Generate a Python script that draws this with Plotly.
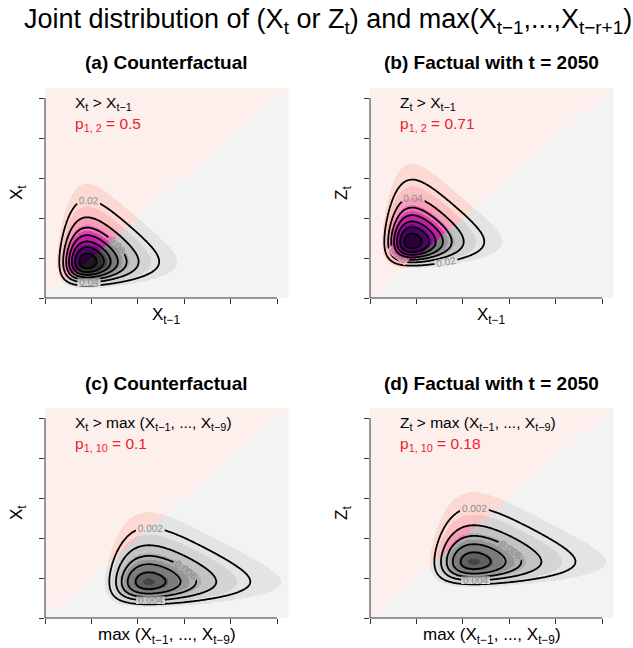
import numpy as np
import plotly.graph_objects as go

FONT = "Liberation Sans, Arial, Helvetica, sans-serif"
W, H = 633, 648

# ---------------- data ----------------
panel_titles = ["(a) Counterfactual", "(b) Factual with t = 2050",
                "(c) Counterfactual", "(d) Factual with t = 2050"]
event_labels = ["X<sub>t</sub> > X<sub>t\u22121</sub>",
                "Z<sub>t</sub> > X<sub>t\u22121</sub>",
                "X<sub>t</sub> > max (X<sub>t\u22121</sub>, ..., X<sub>t\u22129</sub>)",
                "Z<sub>t</sub> > max (X<sub>t\u22121</sub>, ..., X<sub>t\u22129</sub>)"]
prob_subscripts = ["1, 2", "1, 2", "1, 10", "1, 10"]
prob_values = ["0.5", "0.71", "0.1", "0.18"]
x_titles = ["X<sub>t\u22121</sub>", "X<sub>t\u22121</sub>",
            "max (X<sub>t\u22121</sub>, ..., X<sub>t\u22129</sub>)",
            "max (X<sub>t\u22121</sub>, ..., X<sub>t\u22129</sub>)"]
y_titles = ["X<sub>t</sub>", "Z<sub>t</sub>", "X<sub>t</sub>", "Z<sub>t</sub>"]

# GEV marginals (location, scale, shape)
x_loc = [1.95, 1.95, 4.75, 4.75]
x_scale = [0.95, 0.95, 1.52, 1.52]
x_shape = [0.15, 0.15, 0.20, 0.20]
y_loc = [1.95, 2.95, 1.95, 2.95]
y_scale = [0.95, 0.95, 0.95, 0.95]
y_shape = [0.15, 0.15, 0.15, 0.15]
density_scale = [1.0, 1.0, 0.116, 0.116]
level_unit = [0.02, 0.02, 0.002, 0.002]
label_format = [".2f", ".2f", ".3f", ".3f"]
fill_breaks = [0.55, 1.3, 2.0, 2.7, 3.4, 4.1, 4.8, 5.5, 6.2, 6.9]
tick_vals = [0, 2, 4, 6, 8, 10]
axis_max = 10.5

grey_cols = ["#F3F3F3", "#E4E4E4", "#D4D4D4", "#C3C3C3", "#AEAEAE", "#969696",
             "#7C7C7C", "#606060", "#454545", "#2E2E2E", "#1A1A1A"]
pink_cols = ["#FDEFEC", "#FDD9D3", "#FAC1C2", "#F5A0B8", "#EE72B6", "#E040AE",
             "#C41FA6", "#9A0E98", "#6C0880", "#440560", "#2A003A"]
red_col = "#F0202E"

# ---------------- layout geometry ----------------
col_x = [(45 / W, 288.6 / W), (370 / W, 613.8 / W)]
row_y = [(1 - 298 / H, 1 - 88 / H), (1 - 618 / H, 1 - 408 / H)]


def gev_pdf(v, mu, sigma, xi):
    z = (v - mu) / sigma
    s = 1 + xi * z
    out = np.zeros_like(v, dtype=float)
    ok = s > 0
    t = s[ok] ** (-1.0 / xi)
    out[ok] = (1.0 / sigma) * t ** (xi + 1) * np.exp(-t)
    return out


fig = go.Figure()
annotations = []
shapes = []

nb = len(fill_breaks) + 1
cscale = []
M = 2 * nb
all_cols = grey_cols + pink_cols
for i, col in enumerate(all_cols):
    cscale.append([i / M, col])
    cscale.append([(i + 1) / M, col])

gf = np.linspace(0, axis_max, 361)
gc = np.linspace(0, axis_max, 221)

for i in range(4):
    r, c = divmod(i, 2)
    sfx = "" if i == 0 else str(i + 1)
    xa, ya = "x" + sfx, "y" + sfx

    def dens(g):
        X, Y = np.meshgrid(g, g)
        return (gev_pdf(X, x_loc[i], x_scale[i], x_shape[i]) *
                gev_pdf(Y, y_loc[i], y_scale[i], y_shape[i]) * density_scale[i]), X, Y

    zf, Xf, Yf = dens(gf)
    levels = np.array(fill_breaks) * level_unit[i]
    band = np.digitize(zf, levels)
    code = (band + nb * (Yf > Xf)).astype(np.int8)
    fig.add_trace(go.Heatmap(x=gf, y=gf, z=code, colorscale=cscale, zmin=-0.5, zmax=M - 0.5,
                             showscale=False, hoverinfo="skip", xaxis=xa, yaxis=ya))

    zc, _, _ = dens(gc)
    u = level_unit[i]
    # labelled outer contours
    fig.add_trace(go.Contour(x=gc, y=gc, z=zc, showscale=False, hoverinfo="skip",
                             colorscale=[[0, "black"], [1, "black"]],
                             contours=dict(start=u, end=u * 3, size=u, coloring="lines",
                                           showlabels=True, labelformat=label_format[i],
                                           labelfont=dict(size=10, color="#8c8c8c", family=FONT)),
                             line=dict(width=1.8), xaxis=xa, yaxis=ya))
    # unlabelled inner contours
    fig.add_trace(go.Contour(x=gc, y=gc, z=zc, showscale=False, hoverinfo="skip",
                             colorscale=[[0, "black"], [1, "black"]],
                             contours=dict(start=u * 4, end=u * 12, size=u, coloring="lines",
                                           showlabels=False),
                             line=dict(width=1.8), xaxis=xa, yaxis=ya))

    ax_common = dict(range=[0, axis_max], tickvals=tick_vals, ticks="outside", ticklen=5,
                     tickcolor="#333", tickwidth=1, showticklabels=False, showgrid=False,
                     zeroline=False, showline=False, fixedrange=True)
    fig.update_layout({("xaxis" + sfx): dict(domain=col_x[c], anchor=ya, **ax_common),
                       ("yaxis" + sfx): dict(domain=row_y[r], anchor=xa, **ax_common)})

    x0, x1 = col_x[c]
    y0, y1 = row_y[r]
    fx = lambda v: x0 + (x1 - x0) * v / axis_max
    fy = lambda v: y0 + (y1 - y0) * v / axis_max
    shapes.append(dict(type="line", xref="paper", yref="paper", x0=fx(0), x1=fx(tick_vals[-1]),
                       y0=y0, y1=y0, line=dict(color="#333", width=1)))
    shapes.append(dict(type="line", xref="paper", yref="paper", x0=x0, x1=x0,
                       y0=fy(0), y1=fy(tick_vals[-1]), line=dict(color="#333", width=1)))

    dx, dy = xa + " domain", ya + " domain"
    annotations.append(dict(text="<b>" + panel_titles[i] + "</b>", xref=dx, yref=dy, x=0.5, y=1,
                            yshift=25, xanchor="center", yanchor="middle", showarrow=False,
                            font=dict(family=FONT, size=19, color="black")))
    annotations.append(dict(text=x_titles[i], xref=dx, yref=dy, x=0.5, y=0, yshift=-18,
                            xanchor="center", yanchor="middle", showarrow=False,
                            font=dict(family=FONT, size=17, color="black")))
    annotations.append(dict(text=y_titles[i], xref=dx, yref=dy, x=0, y=0.5, xshift=-27,
                            xanchor="center", yanchor="middle", textangle=-90, showarrow=False,
                            font=dict(family=FONT, size=17, color="black")))
    annotations.append(dict(text=event_labels[i], xref=xa, yref=ya, x=1.19, y=9.72,
                            xanchor="left", yanchor="middle", showarrow=False,
                            font=dict(family=FONT, size=15.5, color="black")))
    annotations.append(dict(text="p<sub>" + prob_subscripts[i] + "</sub> = " + prob_values[i],
                            xref=xa, yref=ya, x=1.19, y=8.68,
                            xanchor="left", yanchor="middle", showarrow=False,
                            font=dict(family=FONT, size=15.5, color=red_col)))

annotations.append(dict(text="Joint distribution of (X<sub>t</sub> or Z<sub>t</sub>) and "
                             "max(X<sub>t\u22121</sub>,...,X<sub>t\u2212r+1</sub>)",
                        xref="paper", yref="paper", x=328 / W, y=1 - 21 / H,
                        xanchor="center", yanchor="middle", showarrow=False,
                        font=dict(family=FONT, size=27, color="black")))

fig.update_layout(width=W, height=H, margin=dict(l=0, r=0, t=0, b=0),
                  paper_bgcolor="white", plot_bgcolor="white",
                  annotations=annotations, shapes=shapes, showlegend=False)

fig.write_html("out.html", config={"displayModeBar": False, "staticPlot": True},
               post_script="document.body.style.margin='0px';document.body.style.overflow='hidden';")
